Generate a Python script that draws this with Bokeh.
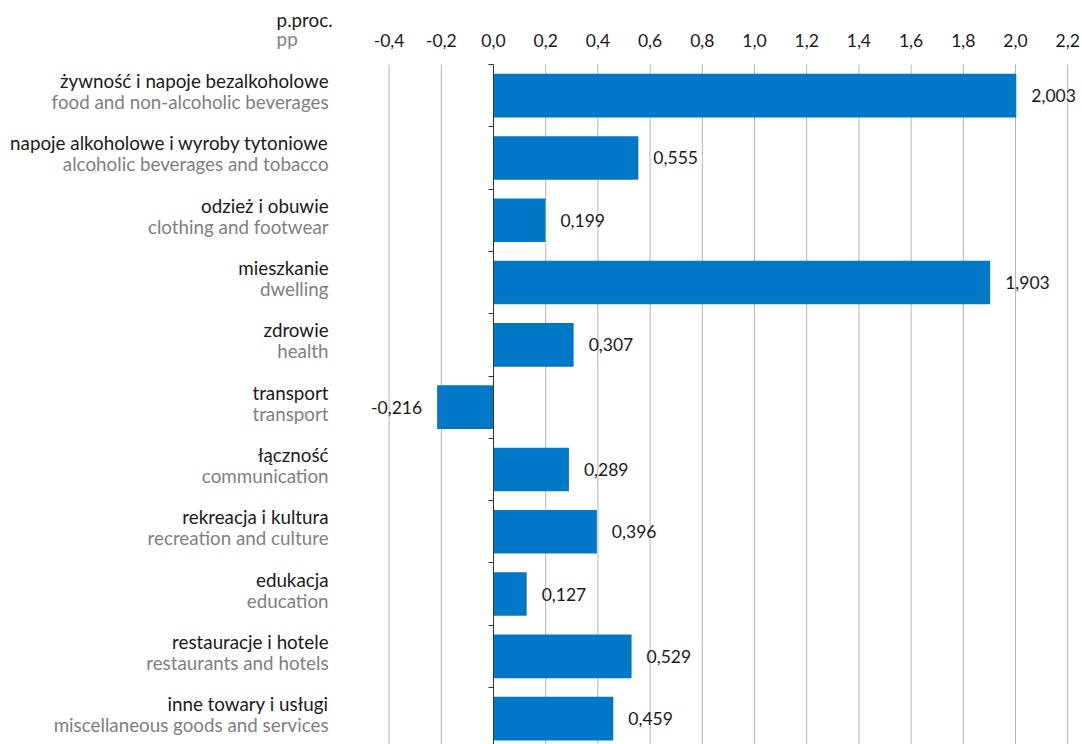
from bokeh.plotting import figure
from bokeh.models import ColumnDataSource, Range1d, FixedTicker, CustomJSTickFormatter
from bokeh.core.properties import value
from bokeh.embed import file_html
from bokeh.resources import INLINE

cats_pl = ["żywność i napoje bezalkoholowe", "napoje alkoholowe i wyroby tytoniowe",
           "odzież i obuwie", "mieszkanie", "zdrowie", "transport", "łączność",
           "rekreacja i kultura", "edukacja", "restauracje i hotele", "inne towary i usługi"]
cats_en = ["food and non-alcoholic beverages", "alcoholic beverages and tobacco",
           "clothing and footwear", "dwelling", "health", "transport", "communication",
           "recreation and culture", "education", "restaurants and hotels",
           "miscellaneous goods and services"]
values = [2.003, 0.555, 0.199, 1.903, 0.307, -0.216, 0.289, 0.396, 0.127, 0.529, 0.459]
x_ticks = [-0.4, -0.2, 0.0, 0.2, 0.4, 0.6, 0.8, 1.0, 1.2, 1.4, 1.6, 1.8, 2.0, 2.2]
unit_pl = "p.proc."
unit_en = "pp"

FONT = "Lato"
FS_NUM = "17.5px"
FS_CAT = "18.8px"
BLUE = "#0078c8"
GRAY = "#808080"
BLACK = "#1a1a1a"
GRID = "#b5b5b5"

n = len(values)
idx = list(range(n))
top = -0.5
bottom = n - 0.5

src = ColumnDataSource(dict(
    y=idx, v=values, zero=[0] * n,
    lab=[f"{v:.3f}".replace(".", ",") for v in values],
    align=["left" if v >= 0 else "right" for v in values],
    xoff=[15 if v >= 0 else -15 for v in values],
    pl=cats_pl, en=cats_en, lx=[-0.632] * n,
))
grid_src = ColumnDataSource(dict(x=x_ticks, y0=[top] * len(x_ticks), y1=[bottom] * len(x_ticks)))
head_src = ColumnDataSource(dict(x=[-0.831, -0.831], y=[-1.225, -0.917], t=[unit_pl, unit_en],
                                 c=[BLACK, GRAY]))

p = figure(width=1082, height=744, output_backend="svg", toolbar_location=None,
           x_range=Range1d(-1.8889, 2.2567), y_range=Range1d(10.4149, -1.5273),
           x_axis_location="above", min_border_left=0, min_border_right=0,
           min_border_bottom=0, min_border_top=0)
p.outline_line_color = None
p.background_fill_color = "white"
p.border_fill_color = "white"
p.xgrid.grid_line_color = None
p.ygrid.grid_line_color = None

# top x axis, placed at the top edge of the bar area
xa = p.xaxis[0]
xa.fixed_location = top
xa.ticker = FixedTicker(ticks=x_ticks)
xa.formatter = CustomJSTickFormatter(code="return tick.toFixed(1).replace('.', ',');")
xa.axis_line_color = None
xa.major_tick_line_color = None
xa.minor_tick_line_color = None
xa.major_tick_out = 0
xa.major_label_standoff = 18
xa.major_label_text_font = FONT
xa.major_label_text_font_size = FS_NUM
xa.major_label_text_color = BLACK

# vertical grid lines
p.segment(x0="x", y0="y0", x1="x", y1="y1", source=grid_src, line_color=GRID,
          line_width=1, level="underlay")

p.hbar(y="y", left="zero", right="v", height=0.7, source=src,
       fill_color=BLUE, line_color=None)

# y axis at x = 0 with ticks at category boundaries
ya = p.yaxis[0]
ya.fixed_location = 0
ya.bounds = (top, bottom)
ya.ticker = FixedTicker(ticks=[i - 0.5 for i in range(n + 1)])
ya.formatter = CustomJSTickFormatter(code="return '';")
ya.axis_line_color = "#333333"
ya.major_tick_line_color = "#333333"
ya.major_tick_out = 5
ya.major_tick_in = 0
ya.minor_tick_line_color = None
ya.major_label_text_font_size = "0px"

p.text(x="v", y="y", text="lab", source=src, x_offset="xoff", text_align="align",
       text_baseline="middle", text_font=value(FONT), text_font_size=FS_NUM, text_color=BLACK)

p.text(x="lx", y="y", text="pl", source=src, y_offset=-15, text_align="right",
       text_baseline="middle", text_font=value(FONT), text_font_size=FS_CAT, text_color=BLACK)
p.text(x="lx", y="y", text="en", source=src, y_offset=6, text_align="right",
       text_baseline="middle", text_font=value(FONT), text_font_size=FS_CAT, text_color=GRAY)

p.text(x="x", y="y", text="t", source=head_src, text_align="left", text_baseline="middle",
       text_font=value(FONT), text_font_size=FS_CAT, text_color="c")

open("out.html", "w").write(file_html(p, INLINE))
